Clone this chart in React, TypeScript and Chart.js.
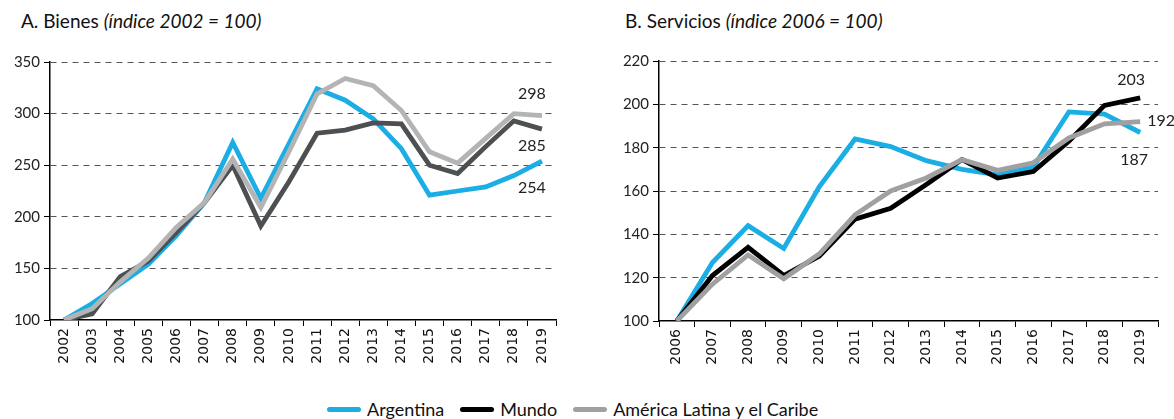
import React, { useEffect, useRef } from "react";
import { Chart, registerables } from "chart.js";

Chart.register(...registerables);

// ---------- Data ----------
const bienesYears = ["2002", "2003", "2004", "2005", "2006", "2007", "2008", "2009", "2010", "2011", "2012", "2013", "2014", "2015", "2016", "2017", "2018", "2019"];
const bienesArgentina = [100, 116, 135, 154, 182, 214, 272, 218, 271, 324, 313, 295, 266, 221, 225, 229, 240, 254];
const bienesMundo = [100, 106, 142, 157, 185, 214, 250, 191, 234, 281, 284, 291, 290, 250, 242, 268, 293, 285];
const bienesALC = [100, 111, 137, 160, 190, 214, 256, 209, 263, 319, 334, 327, 303, 263, 252, 276, 300, 298];
const bienesTicks = { min: 100, max: 350, step: 50 };

const serviciosYears = ["2006", "2007", "2008", "2009", "2010", "2011", "2012", "2013", "2014", "2015", "2016", "2017", "2018", "2019"];
const serviciosArgentina = [100, 127, 144, 133.5, 162, 184, 180.5, 174, 170, 167.5, 171, 196.5, 195.5, 187];
const serviciosMundo = [100, 121, 134, 121, 130, 147, 152, 163, 174.5, 166, 169, 183, 199.5, 203];
const serviciosALC = [100, 117, 130.5, 119.5, 131, 149, 160, 166, 174.5, 169.5, 173, 184.5, 191, 192];
const serviciosTicks = { min: 100, max: 220, step: 20 };

const seriesNames = ["Argentina", "Mundo", "América Latina y el Caribe"];

// ---------- Styles ----------
const BLUE = "#1aaee5";
const FONT = "Lato, 'Open Sans', sans-serif";

const endLabelPlugin = {
  id: "endLabels",
  afterDatasetsDraw(chart: any, _args: any, opts: any) {
    const ctx = chart.ctx;
    ctx.save();
    ctx.font = opts.font;
    ctx.fillStyle = opts.color;
    ctx.textBaseline = "middle";
    for (const it of opts.items || []) {
      const meta = chart.getDatasetMeta(it.ds);
      const pt = meta.data[meta.data.length - 1];
      const data = chart.data.datasets[it.ds].data;
      const v = data[data.length - 1];
      ctx.textAlign = it.align;
      ctx.fillText(String(Math.round(v)), pt.x + it.dx, pt.y + it.dy);
    }
    ctx.restore();
  },
};

type Props = {
  labels: string[];
  argentina: number[];
  mundo: number[];
  alc: number[];
  mundoColor: string;
  alcColor: string;
  ticks: { min: number; max: number; step: number };
  left: number;
  width: number;
  height: number;
  padTop: number;
  padRight: number;
  yWidth: number;
  xHeight: number;
  endLabels: { ds: number; dx: number; dy: number; align: string }[];
};

function LineChart(p: Props) {
  const ref = useRef<HTMLCanvasElement>(null);
  useEffect(() => {
    const chart = new Chart(ref.current as HTMLCanvasElement, {
      type: "line",
      data: {
        labels: p.labels,
        datasets: [
          { label: seriesNames[2], data: p.alc, borderColor: p.alcColor, backgroundColor: p.alcColor },
          { label: seriesNames[1], data: p.mundo, borderColor: p.mundoColor, backgroundColor: p.mundoColor },
          { label: seriesNames[0], data: p.argentina, borderColor: BLUE, backgroundColor: BLUE },
        ],
      },
      options: {
        animation: false,
        responsive: false,
        devicePixelRatio: 1,
        layout: { padding: { top: p.padTop, right: p.padRight, left: 0, bottom: 0 } },
        elements: {
          point: { radius: 0, hoverRadius: 0 },
          line: { tension: 0, borderWidth: 4.8, borderJoinStyle: "miter" },
        },
        plugins: {
          legend: { display: false },
          tooltip: { enabled: false },
          // @ts-ignore
          endLabels: { font: `16px ${FONT}`, color: "#222", items: p.endLabels },
        },
        scales: {
          x: {
            type: "category",
            offset: true,
            grid: {
              offset: true,
              drawOnChartArea: false,
              drawTicks: true,
              tickLength: 6,
              color: "#000",
              lineWidth: 1,
            },
            border: { color: "#000", width: 1.5 },
            ticks: {
              autoSkip: false,
              minRotation: 90,
              maxRotation: 90,
              padding: 2,
              color: "#111",
              font: { family: "'DejaVu Sans', Verdana, sans-serif", size: 14 },
            },
            afterFit: (s: any) => {
              s.height = p.xHeight;
            },
          },
          y: {
            min: p.ticks.min,
            max: p.ticks.max,
            ticks: {
              stepSize: p.ticks.step,
              padding: 4,
              color: "#222",
              font: { family: FONT, size: 15 },
            },
            grid: {
              color: (c: any) => (c.tick && c.tick.value === p.ticks.min ? "rgba(0,0,0,0)" : "#555"),
              lineWidth: 1,
              tickColor: "#000",
              tickLength: 6,
              tickBorderDash: [],
            },
            border: { color: "#000", width: 1.5, dash: [6, 5] },
            afterFit: (s: any) => {
              s.width = p.yWidth;
            },
          },
        },
      },
      plugins: [endLabelPlugin as any],
    } as any);
    return () => chart.destroy();
  }, []);
  return (
    <canvas
      ref={ref}
      width={p.width}
      height={p.height}
      style={{ position: "absolute", left: p.left, top: 0, width: p.width, height: p.height }}
    />
  );
}

function LegendItem({ color, text, ml }: { color: string; text: string; ml: number }) {
  return (
    <div style={{ display: "flex", alignItems: "center", marginLeft: ml }}>
      <div style={{ width: 34, height: 5, borderRadius: 3, background: color, marginRight: 6 }} />
      <span>{text}</span>
    </div>
  );
}

export default function App() {
  return (
    <div
      style={{
        position: "absolute",
        left: 0,
        top: 0,
        width: 1174,
        height: 419,
        background: "#fff",
        fontFamily: FONT,
        color: "#111",
        overflow: "hidden",
      }}
    >
      <div style={{ position: "absolute", left: 21, top: 10, fontSize: 19, lineHeight: 1.2, whiteSpace: "nowrap" }}>
        A. Bienes <i>(índice 2002 = 100)</i>
      </div>
      <div style={{ position: "absolute", left: 625, top: 10, fontSize: 19, lineHeight: 1.2, whiteSpace: "nowrap" }}>
        B. Servicios <i>(índice 2006 = 100)</i>
      </div>
      <LineChart
        labels={bienesYears}
        argentina={bienesArgentina}
        mundo={bienesMundo}
        alc={bienesALC}
        mundoColor="#4d5052"
        alcColor="#b4b4b4"
        ticks={bienesTicks}
        left={0}
        width={580}
        height={380}
        padTop={62}
        padRight={24}
        yWidth={50}
        xHeight={60}
        endLabels={[
          { ds: 0, dx: -10, dy: -22, align: "center" },
          { ds: 1, dx: -10, dy: 17, align: "center" },
          { ds: 2, dx: -10, dy: 27, align: "center" },
        ]}
      />
      <LineChart
        labels={serviciosYears}
        argentina={serviciosArgentina}
        mundo={serviciosMundo}
        alc={serviciosALC}
        mundoColor="#000000"
        alcColor="#a0a0a0"
        ticks={serviciosTicks}
        left={600}
        width={574}
        height={380}
        padTop={61}
        padRight={16}
        yWidth={59}
        xHeight={59}
        endLabels={[
          { ds: 1, dx: -9, dy: -18, align: "center" },
          { ds: 0, dx: 7, dy: -1, align: "left" },
          { ds: 2, dx: -6, dy: 27, align: "center" },
        ]}
      />
      <div
        style={{
          position: "absolute",
          left: 327,
          top: 399,
          display: "flex",
          alignItems: "center",
          fontSize: 18,
          lineHeight: 1.2,
          whiteSpace: "nowrap",
        }}
      >
        <LegendItem color={BLUE} text={seriesNames[0]} ml={0} />
        <LegendItem color="#000" text={seriesNames[1]} ml={16} />
        <LegendItem color="#a0a0a0" text={seriesNames[2]} ml={16} />
      </div>
    </div>
  );
}
